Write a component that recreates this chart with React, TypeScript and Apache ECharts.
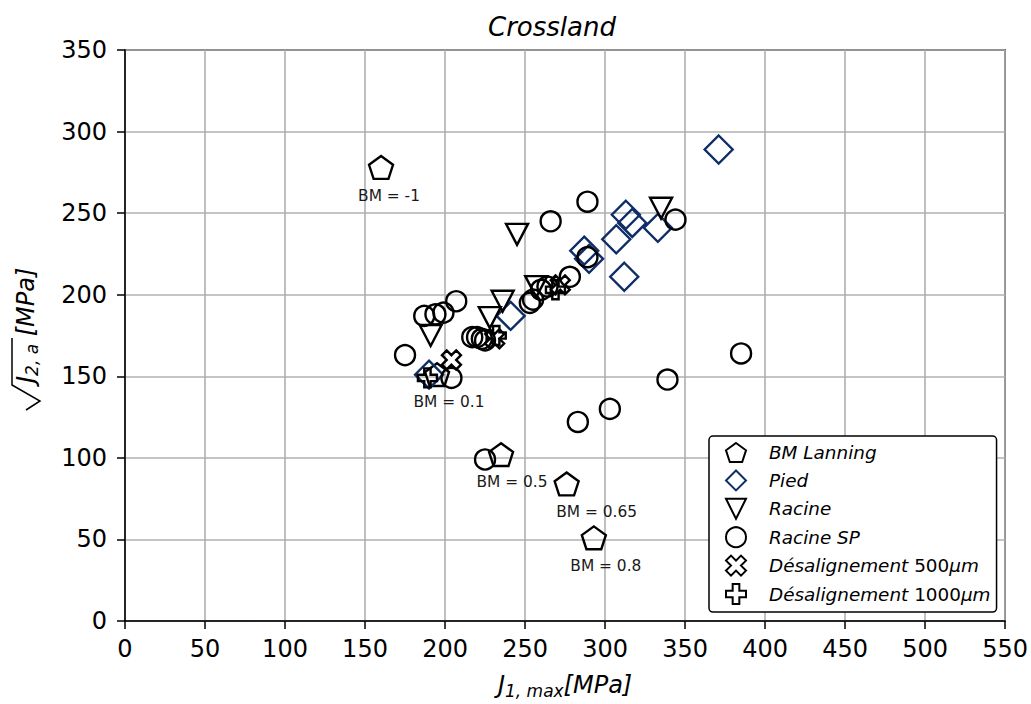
import React, { useEffect, useRef } from 'react';
import * as echarts from 'echarts';

// ---- data ----
const xTickMin = 0;
const xTickMax = 550;
const xTickStep = 50;
const yTickMin = 0;
const yTickMax = 350;
const yTickStep = 50;

const bmLanning: number[][] = [[160, 278], [195, 151], [235, 102], [276, 84], [293, 51]];
const bmLabels: string[] = ['BM = -1', 'BM = 0.1', 'BM = 0.5', 'BM = 0.65', 'BM = 0.8'];
const pied: number[][] = [[190, 151], [241, 187], [287, 227], [290, 222], [307, 234], [312, 211], [313, 249], [317, 244], [333, 241], [371, 289]];
const racine: number[][] = [[191, 175], [228, 186], [236, 196], [245, 237], [257, 205], [335, 253]];
const racineSP: number[][] = [[175, 163], [187, 187], [194, 188], [199, 189], [207, 196], [204, 149], [217, 174], [220, 174], [223, 173], [225, 172], [253, 195], [255, 197], [260, 203], [264, 205], [278, 211], [266, 245], [289, 257], [289, 223], [344, 246], [339, 148], [303, 130], [283, 122], [385, 164], [225, 99]];
const desal500: number[][] = [[204, 160], [231, 173], [272, 206]];
const desal1000: number[][] = [[189, 149], [232, 175], [269, 203]];

const seriesNames: string[] = ['BM Lanning', 'Pied', 'Racine', 'Racine SP', 'Désalignement 500µm', 'Désalignement 1000µm'];
const chartTitle = 'Crossland';

// ---- styles ----
const labelOffsets: number[][] = [[8, 3], [12, 2], [11, 2], [30, 3], [12, 3]];
const PENTAGON = 'path://M0,-1L0.951,-0.309L0.588,0.809L-0.588,0.809L-0.951,-0.309Z';
const TRI_DOWN = 'path://M-1,-1L1,-1L0,1Z';
const PLUS = 'path://M-1,-3L1,-3L1,-1L3,-1L3,1L1,1L1,3L-1,3L-1,1L-3,1L-3,-1L-1,-1Z';
const XSYM = 'path://M1.414,-2.828L2.828,-1.414L1.414,0L2.828,1.414L1.414,2.828L0,1.414L-1.414,2.828L-2.828,1.414L-1.414,0L-2.828,-1.414L-1.414,-2.828L0,-1.414Z';
const NAVY = '#0f2d69';
const FONT = 'DejaVu Sans';
const STROKE = 2.4;

function hollow(color: string) {
  return { color: 'rgba(0,0,0,0)', borderColor: color, borderWidth: STROKE, opacity: 1 };
}

export default function App() {
  const ref = useRef<HTMLDivElement>(null);
  useEffect(() => {
    if (!ref.current) return;
    const chart = echarts.init(ref.current, undefined, { renderer: 'svg' });
    const bmData = bmLanning.map((p, i) => ({
      value: p,
      label: {
        show: true,
        formatter: bmLabels[i],
        position: 'bottom',
        offset: labelOffsets[i],
        fontFamily: FONT,
        fontSize: 15.4,
        color: '#1a1a1a',
      },
    }));
    const common = { type: 'scatter', emphasis: { disabled: true }, silent: true };
    const axisRich = {
      r: { fontFamily: FONT, fontSize: 24, color: '#000' },
      j: { fontFamily: FONT, fontStyle: 'italic', fontSize: 24, color: '#000' },
      s: { fontFamily: FONT, fontStyle: 'italic', fontSize: 17, color: '#000', padding: [12, 0, 0, 0] },
      n: { fontFamily: FONT, fontStyle: 'italic', fontSize: 24, color: '#000' },
    };
    const option: any = {
      animation: false,
      backgroundColor: '#ffffff',
      title: {
        text: chartTitle,
        left: 547,
        textAlign: 'center',
        top: 9,
        textStyle: { fontFamily: FONT, fontStyle: 'italic', fontWeight: 'normal', fontSize: 26, color: '#000' },
      },
      grid: { left: 125, right: 25, top: 50, bottom: 82, show: true, borderColor: '#000', borderWidth: 1.5, backgroundColor: 'transparent' },
      xAxis: {
        type: 'value', min: xTickMin, max: xTickMax, interval: xTickStep,
        name: '{j|J}{s|1, max}{n|[MPa]}',
        nameLocation: 'middle', nameGap: 49,
        nameTextStyle: { rich: axisRich },
        axisLine: { show: true, onZero: false, lineStyle: { color: '#000', width: 1.5 } },
        axisTick: { show: true, length: 8, lineStyle: { color: '#000', width: 1.5 } },
        axisLabel: { fontFamily: FONT, fontSize: 24, color: '#000', margin: 16 },
        splitLine: { show: true, lineStyle: { color: '#b0b0b0', width: 1.6 } },
      },
      yAxis: {
        type: 'value', min: yTickMin, max: yTickMax, interval: yTickStep,
        axisLine: { show: true, onZero: false, lineStyle: { color: '#000', width: 1.5 } },
        axisTick: { show: true, length: 8, lineStyle: { color: '#000', width: 1.5 } },
        axisLabel: { fontFamily: FONT, fontSize: 24, color: '#000', margin: 18 },
        splitLine: { show: true, lineStyle: { color: '#b0b0b0', width: 1.6 } },
      },
      graphic: [
        {
          type: 'polyline',
          silent: true,
          shape: { points: [[26, 410], [40, 401], [12, 385], [12, 338]] },
          style: { stroke: '#000', lineWidth: 1.5, fill: 'none' },
        },
        {
          type: 'text',
          silent: true,
          x: 26,
          y: 383,
          rotation: Math.PI / 2,
          style: {
            text: '{j|J}{s|2, a}{n| [MPa]}',
            rich: axisRich,
            align: 'left',
            verticalAlign: 'middle',
          },
        },
      ],
      legend: {
        left: 709, top: 436, orient: 'vertical',
        data: seriesNames,
        backgroundColor: '#fff', borderColor: '#000', borderWidth: 1.5, borderRadius: 4,
        padding: [6, 6, 7, 16],
        itemWidth: 20, itemHeight: 20, itemGap: 6.4,
        formatter: (name: string) => {
          const m = name.match(/^(.*?)(\d+)(µm)$/);
          if (m) return '{i|' + m[1] + '}{d|' + m[2] + '}{i|' + m[3] + '}';
          return '{i|' + name + '}';
        },
        textStyle: {
          rich: {
            i: { fontFamily: FONT, fontStyle: 'italic', fontSize: 18.4, lineHeight: 20, color: '#000' },
            d: { fontFamily: FONT, fontSize: 18.4, lineHeight: 20, color: '#000' },
          },
          padding: [0, 0, 0, 18],
        },
      },
      series: [
        { ...common, name: seriesNames[0], data: bmData, symbol: PENTAGON, symbolSize: 24, symbolKeepAspect: true, itemStyle: hollow('#000') },
        { ...common, name: seriesNames[1], data: pied, symbol: 'diamond', symbolSize: 28, itemStyle: hollow(NAVY) },
        { ...common, name: seriesNames[2], data: racine, symbol: TRI_DOWN, symbolSize: [22, 21], itemStyle: hollow('#000') },
        { ...common, name: seriesNames[3], data: racineSP, symbol: 'circle', symbolSize: 20, itemStyle: hollow('#000') },
        { ...common, name: seriesNames[4], data: desal500, symbol: XSYM, symbolSize: 19, itemStyle: hollow('#000') },
        { ...common, name: seriesNames[5], data: desal1000, symbol: PLUS, symbolSize: 19, itemStyle: hollow('#000') },
      ],
    };
    chart.setOption(option);
    return () => chart.dispose();
  }, []);
  return <div ref={ref} style={{ position: 'fixed', left: 0, top: 0, width: 1031, height: 704, background: '#fff' }} />;
}
